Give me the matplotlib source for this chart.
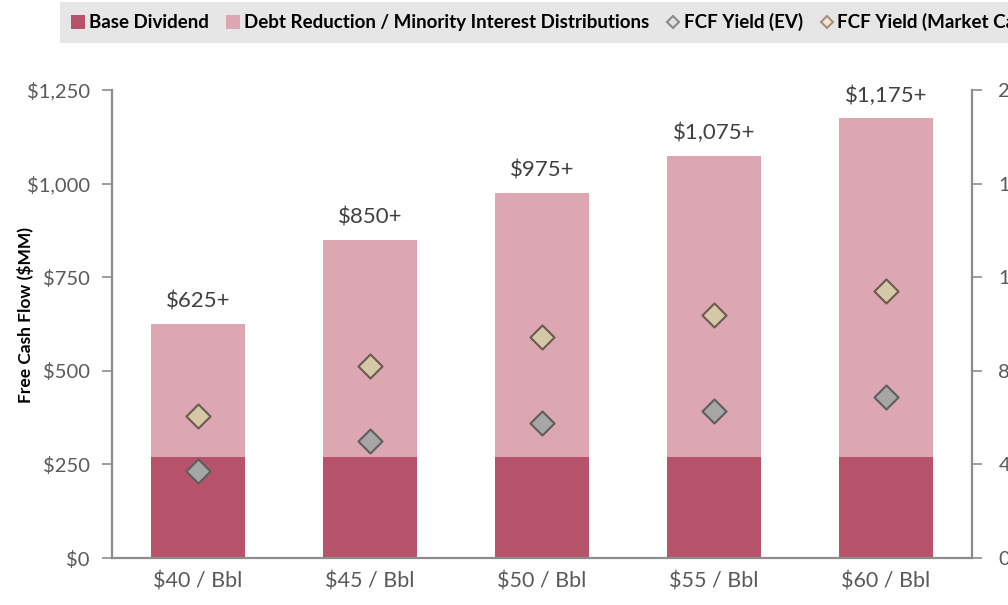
"""
Free cash flow by oil price deck: stacked bars (base dividend + debt reduction)
with FCF yield diamonds on a secondary axis.
"""
import matplotlib
matplotlib.use("Agg")
import matplotlib.pyplot as plt
from matplotlib.patches import Patch
from matplotlib.lines import Line2D
from matplotlib.ticker import FuncFormatter

plt.rcParams["font.family"] = ["Lato", "DejaVu Sans"]

# ── Data ──────────────────────────────────────────────────────────────────────
categories   = ["$40 / Bbl", "$45 / Bbl", "$50 / Bbl", "$55 / Bbl", "$60 / Bbl"]
base_div     = [270, 270, 270, 270, 270]
total_fcf    = [625, 850, 975, 1075, 1175]
total_labels = ["$625+", "$850+", "$975+", "$1,075+", "$1,175+"]
debt_red     = [t - b for t, b in zip(total_fcf, base_div)]
yield_ev     = [3.7, 5.0, 5.75, 6.3, 6.9]      # %
yield_mcap   = [6.05, 8.2, 9.45, 10.4, 11.4]   # %

C_BASE = "#B6536B"
C_DEBT = "#DCA6B2"
C_EV   = "#A6A6A6"
C_MCAP = "#D5C8A6"
C_AXIS = "#8C8C8C"
C_TICK = "#595959"

# ── Plot ──────────────────────────────────────────────────────────────────────
fig = plt.figure(figsize=(10.08, 6.05), dpi=100)
ax = fig.add_axes([112 / 1008, 1 - 558 / 605, 860 / 1008, 468 / 605])

x = list(range(len(categories)))
w = 0.55
ax.bar(x, base_div, width=w, color=C_BASE, zorder=2)
ax.bar(x, debt_red, width=w, bottom=base_div, color=C_DEBT, zorder=2)

for xi, tot, lab in zip(x, total_fcf, total_labels):
    ax.text(xi, tot + 33, lab, ha="center", va="bottom", fontsize=16,
            color="#404040", clip_on=False)

ax.set_xlim(-0.5, len(categories) - 0.5)
ax.set_ylim(0, 1250)
ax.set_yticks([0, 250, 500, 750, 1000, 1250])
ax.yaxis.set_major_formatter(FuncFormatter(lambda v, _: f"${v:,.0f}"))
ax.set_xticks(x)
ax.set_xticklabels(categories, fontsize=15.5, color=C_TICK)
ax.tick_params(axis="x", length=0, pad=10)
ax.tick_params(axis="y", labelsize=14.5, labelcolor=C_TICK, color=C_AXIS,
               length=7, width=1.2, pad=9)
ax.set_ylabel("Free Cash Flow ($MM)", fontsize=12.5, fontweight="bold",
              color="black")
ax.yaxis.set_label_coords((34 - 112) / 860, 1 - (315 - 90) / 468)

for side in ("top", "right"):
    ax.spines[side].set_visible(False)
for side in ("left", "bottom"):
    ax.spines[side].set_color(C_AXIS)
    ax.spines[side].set_linewidth(1.6)

# secondary axis for yields
ax2 = ax.twinx()
ax2.set_ylim(0, 20)
ax2.set_yticks([0, 4, 8, 12, 16, 20])
ax2.yaxis.set_major_formatter(FuncFormatter(lambda v, _: f"{v:.0f}%"))
ax2.tick_params(axis="y", labelsize=14.5, labelcolor=C_TICK, color=C_AXIS,
                length=7, width=1.2, pad=12)
for side in ("top", "left", "bottom"):
    ax2.spines[side].set_visible(False)
ax2.spines["right"].set_color(C_AXIS)
ax2.spines["right"].set_linewidth(1.6)

ax2.scatter(x, yield_ev, marker="D", s=150, color=C_EV, edgecolor="#5E5E5E",
            linewidth=1.5, zorder=5)
ax2.scatter(x, yield_mcap, marker="D", s=150, color=C_MCAP, edgecolor="#6B5A50",
            linewidth=1.5, zorder=5)

# legend band across the top (runs off the right edge like the source)
handles = [
    Patch(facecolor=C_BASE, edgecolor="none", label="Base Dividend"),
    Patch(facecolor=C_DEBT, edgecolor="none",
          label="Debt Reduction / Minority Interest Distributions"),
    Line2D([0], [0], marker="D", ls="none", markersize=6.5, markerfacecolor="#E0E0E0",
           markeredgecolor="#8A8A8A", markeredgewidth=1.5, label="FCF Yield (EV)"),
    Line2D([0], [0], marker="D", ls="none", markersize=6.5, markerfacecolor="#EFE6D6",
           markeredgecolor="#A88F7A", markeredgewidth=1.5,
           label="FCF Yield (Market Cap)"),
]
leg = fig.legend(handles=handles, loc="upper left", bbox_to_anchor=(60 / 1008, 1 - 2 / 605),
                 ncol=4, frameon=True, fancybox=False, handlelength=0.75,
                 handleheight=0.75, handletextpad=0.2, columnspacing=0.9,
                 borderpad=0.6, borderaxespad=0,
                 prop={"family": ["Lato", "DejaVu Sans"],
                       "weight": "bold", "size": 13.5})
leg.get_frame().set_facecolor("#E6E6E6")
leg.get_frame().set_edgecolor("none")
leg.get_frame().set_alpha(1)

fig.savefig("out.png", dpi=100)
